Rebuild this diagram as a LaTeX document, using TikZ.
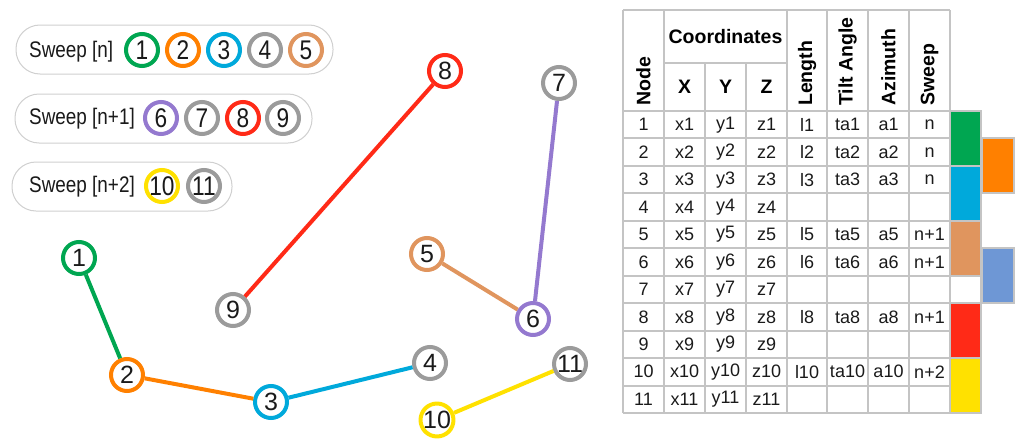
\documentclass[tikz,border=0pt]{standalone}
\usepackage{fontspec}
\setmainfont{Liberation Sans}
\newfontfamily\lgfont[FakeStretch=0.84]{Liberation Sans}
\definecolor{cgreen}{HTML}{00A651}
\definecolor{corange}{HTML}{FF8000}
\definecolor{cblue}{HTML}{00A9DB}
\definecolor{cgray}{HTML}{9B9B9B}
\definecolor{ctan}{HTML}{E0955E}
\definecolor{cpurple}{HTML}{9479CF}
\definecolor{cred}{HTML}{FF2A17}
\definecolor{cyellow}{HTML}{FFE100}
\definecolor{csteel}{HTML}{6E97D5}
\definecolor{cline}{HTML}{C4C4C4}
\definecolor{cpill}{HTML}{D0D0D0}
\definecolor{ctext}{HTML}{1A1A1A}
\begin{document}
\begin{tikzpicture}[x=1pt,y=-1pt,
  gn/.style={circle, draw=#1, line width=4pt, minimum size=32pt, inner sep=0pt, fill=white, text=ctext, font=\fontsize{25}{25}\selectfont},
  ln/.style={gn=#1, font=\lgfont\fontsize{27}{27}\selectfont},
  conn/.style={line width=4pt, draw=#1},
  pill/.style={draw=cpill, line width=1pt, rounded corners=24pt, fill=white, inner sep=0pt},
  lgtext/.style={anchor=west, inner sep=0pt, text=ctext, font=\lgfont\fontsize{22.5}{22.5}\selectfont},
  cell/.style={inner sep=0pt, text=ctext, font=\fontsize{18}{18}\selectfont},
  hcell/.style={inner sep=0pt, text=black, font=\fontsize{19.5}{19.5}\selectfont\bfseries},
  vhead/.style={hcell, rotate=90, anchor=west},
  grid/.style={draw=cline, line width=2pt},
  bar/.style={fill=#1, draw=cline, line width=2pt}
]
\useasboundingbox (0,0) rectangle (1024,447);

% ---------- legend ----------
\node[pill, minimum width=317pt, minimum height=49pt] (p1) at (174.5,49.5) {};
\node[pill, minimum width=297pt, minimum height=49pt] (p2) at (163.5,118.5) {};
\node[pill, minimum width=220pt, minimum height=49pt] (p3) at (122,186.5) {};
\node[lgtext] (t1) at (29,51.5) {Sweep [n]};
\node[lgtext] (t2) at (29,119) {Sweep [n+1]};
\node[lgtext] (t3) at (29,187) {Sweep [n+2]};
\node[ln=cgreen]  (l1) at (142,50) {1};
\node[ln=corange] (l2) at (183,50) {2};
\node[ln=cblue]   (l3) at (224,50) {3};
\node[ln=cgray]   (l4) at (265,50) {4};
\node[ln=ctan]    (l5) at (306,50) {5};
\node[ln=cpurple] (l6) at (161,118) {6};
\node[ln=cgray]   (l7) at (202,118) {7};
\node[ln=cred]    (l8) at (243,118) {8};
\node[ln=cgray]   (l9) at (283,118) {9};
\node[ln=cyellow] (l10) at (162,186) {10};
\node[ln=cgray]   (l11) at (204,186) {11};

% ---------- graph ----------
\node[gn=cgreen]  (n1) at (79,258) {1};
\node[gn=corange] (n2) at (127,375) {2};
\node[gn=cblue]   (n3) at (271,402) {3};
\node[gn=cgray]   (n4) at (430,363) {4};
\node[gn=ctan]    (n5) at (427,254) {5};
\node[gn=cpurple] (n6) at (533,319) {6};
\node[gn=cgray]   (n7) at (559,83) {7};
\node[gn=cred]    (n8) at (445,71) {8};
\node[gn=cgray]   (n9) at (233,310) {9};
\node[gn=cyellow] (n10) at (437,420) {10};
\node[gn=cgray]   (n11) at (570,364) {11};
\draw[conn=cgreen]  (n1) -- (n2);
\draw[conn=corange] (n2) -- (n3);
\draw[conn=cblue]   (n3) -- (n4);
\draw[conn=ctan]    (n5) -- (n6);
\draw[conn=cpurple] (n6) -- (n7);
\draw[conn=cred]    (n8) -- (n9);
\draw[conn=cyellow] (n10) -- (n11);

% ---------- table grid ----------
\foreach \i in {0,...,11} {
  \pgfmathsetmacro{\yy}{111+27.45*\i}
  \draw[grid] (623,\yy) -- (950,\yy);
}
\draw[grid] (623,10) -- (950,10);
\draw[grid] (664,63) -- (787,63);
\foreach \xx in {623,664,787,827,868,909,950} {
  \draw[grid] (\xx,10) -- (\xx,412.95);
}
\foreach \xx in {705,746} {
  \draw[grid] (\xx,63) -- (\xx,412.95);
}

% ---------- header ----------
\node[vhead] (hnode) at (643.5,106) {Node};
\node[hcell] (hcoord) at (725.5,36.5) {Coordinates};
\node[hcell] (hx) at (684.5,87) {X};
\node[hcell] (hy) at (725.5,87) {Y};
\node[hcell] (hz) at (766.5,87) {Z};
\node[vhead] (hlen) at (807,106) {Length};
\node[vhead] (htilt) at (847.5,106) {Tilt Angle};
\node[vhead] (hazi) at (888.5,106) {Azimuth};
\node[vhead] (hsw) at (929.5,106) {Sweep};

% ---------- body ----------
\foreach \r in {1,...,11} {
  \pgfmathsetmacro{\yc}{111+27.45*(\r-0.5)}
  \node[cell] (c\r-n) at (643.5,\yc) {\r};
  \node[cell] (c\r-x) at (684.5,\yc) {x\r};
  \node[cell] (c\r-y) at (725.5,\yc) {y\r};
  \node[cell] (c\r-z) at (766.5,\yc) {z\r};
}
\foreach \r/\s in {1/n,2/n,3/n,5/n+1,6/n+1,8/n+1,10/n+2} {
  \pgfmathsetmacro{\yc}{111+27.45*(\r-0.5)}
  \node[cell] (c\r-l) at (807,\yc) {l\r};
  \node[cell] (c\r-t) at (847.5,\yc) {ta\r};
  \node[cell] (c\r-a) at (888.5,\yc) {a\r};
  \node[cell] (c\r-s) at (929.5,\yc) {\s};
}

% ---------- colour bars ----------
\draw[bar=cgreen]  (950,111) rectangle (981,165.9);
\draw[bar=cblue]   (950,165.9) rectangle (981,220.8);
\draw[bar=ctan]    (950,220.8) rectangle (981,275.7);
\draw[bar=white]   (950,275.7) rectangle (981,303.15);
\draw[bar=cred]    (950,303.15) rectangle (981,358.05);
\draw[bar=cyellow] (950,358.05) rectangle (981,412.95);
\draw[bar=corange] (982,138.45) rectangle (1014,193.35);
\draw[bar=csteel]  (982,248.25) rectangle (1014,303.15);
\end{tikzpicture}
\end{document}
